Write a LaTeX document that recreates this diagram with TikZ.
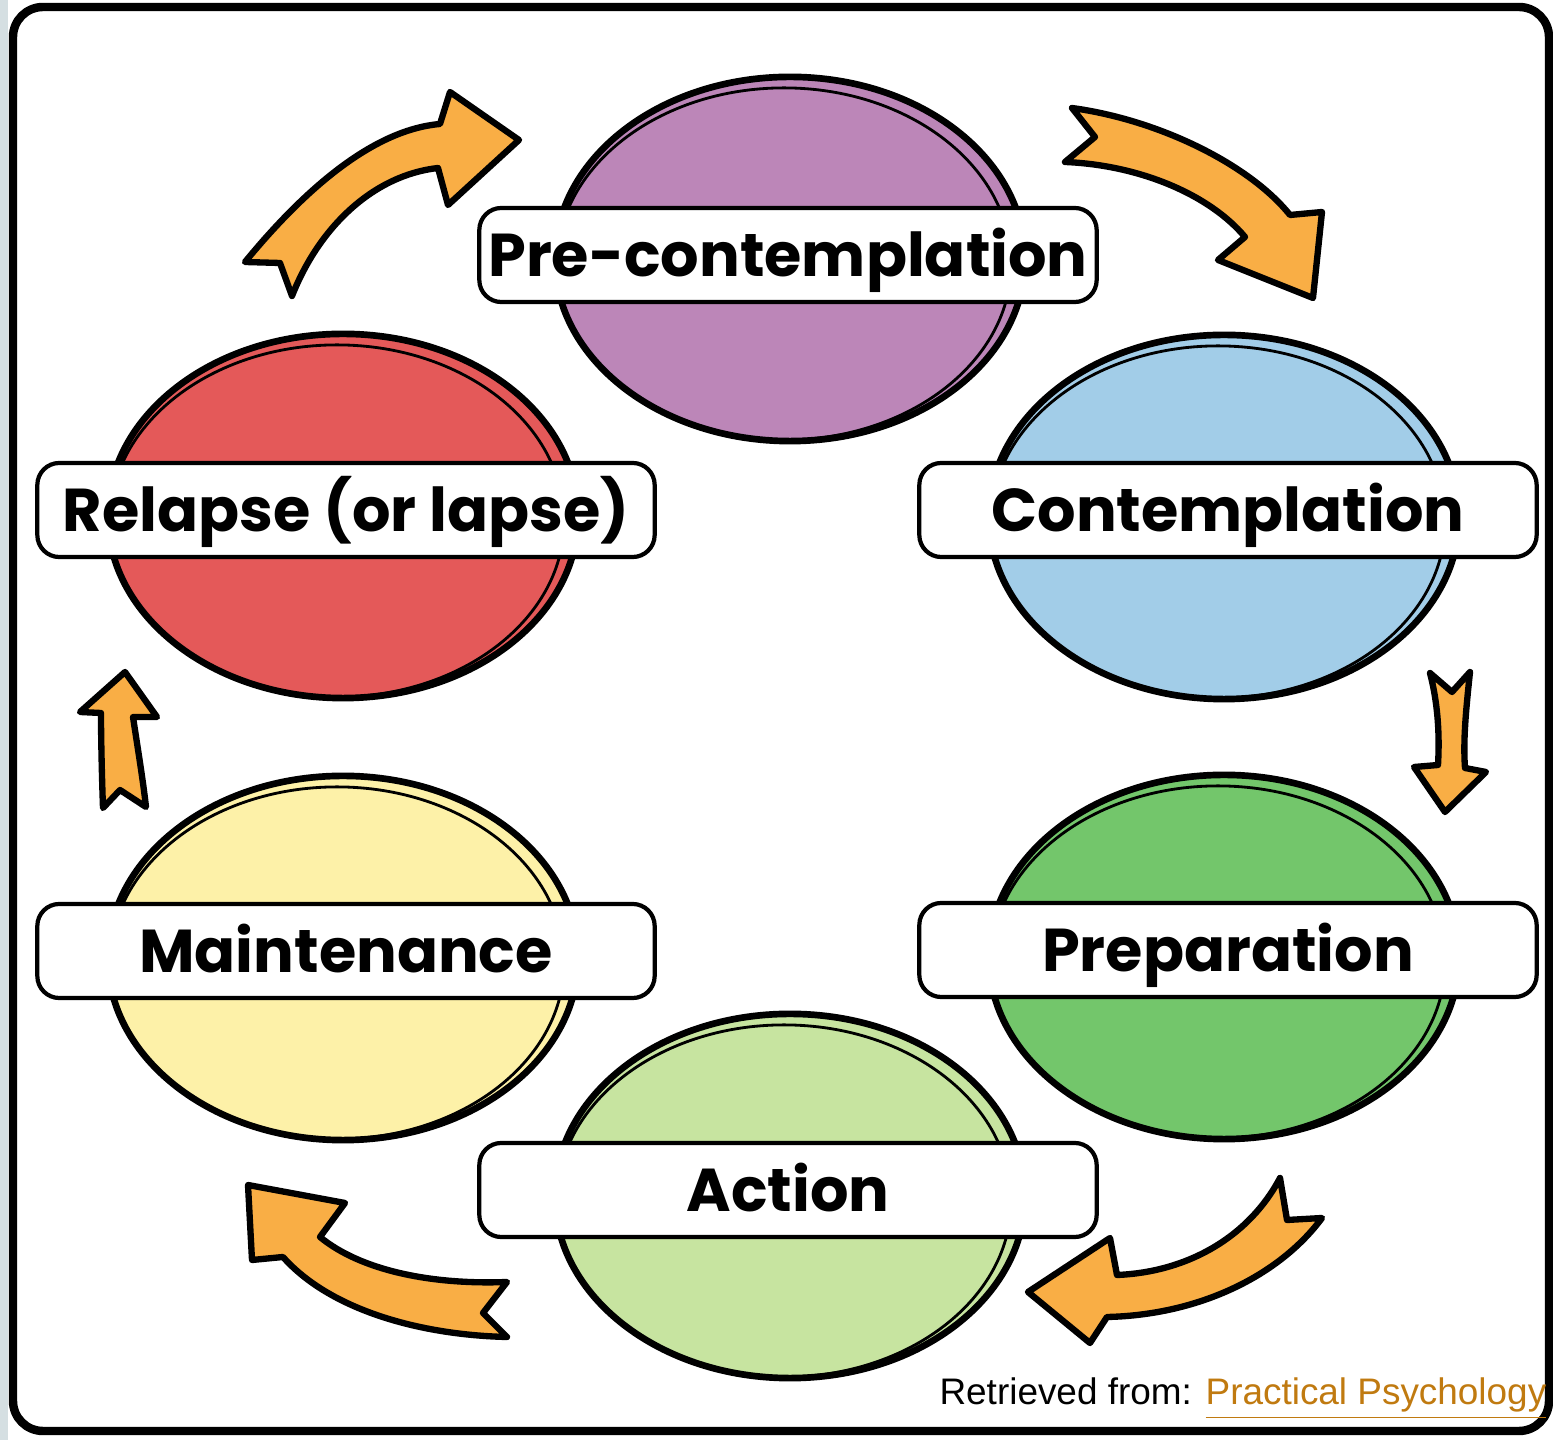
\documentclass[tikz,border=0pt]{standalone}
\usepackage{fontspec}
\setmainfont{Liberation Sans}
\newfontfamily\labfont{Poppins}
\usetikzlibrary{shapes.geometric}
\definecolor{stripc}{HTML}{D5DFE2}
\definecolor{purplec}{HTML}{BC86B8}
\definecolor{bluec}{HTML}{A2CDE8}
\definecolor{greenc}{HTML}{73C66B}
\definecolor{lgreenc}{HTML}{C7E4A0}
\definecolor{yellowc}{HTML}{FDF1A8}
\definecolor{redc}{HTML}{E45959}
\definecolor{orangec}{HTML}{F9AE45}
\definecolor{linkc}{HTML}{C07A10}
\begin{document}
\begin{tikzpicture}[x=0.01cm,y=-0.01cm,
  stage/.style={ellipse, draw=black, line width=1.9pt, minimum width=4.7cm, minimum height=3.64cm, inner sep=0pt},
  sketch/.style={draw=black, line width=0.8pt},
  lab/.style={draw=black, fill=white, line width=1.2pt, rounded corners=0.22cm, minimum width=6.17cm, minimum height=0.94cm, text height=0.68cm, text depth=0.26cm, inner sep=0pt, font=\labfont\bfseries\fontsize{17.2}{20}\selectfont},
  arr/.style={fill=orangec, draw=black, line width=1.8pt, line join=round}]
\useasboundingbox (0,0) rectangle (1553,1440);
\fill[stripc] (0,0) rectangle (8,1440);
\draw[line width=2.4pt, rounded corners=0.3cm] (13,7) rectangle (1549,1431);

% stages
\node[stage, fill=purplec] (pre) at (790,259) {};
\node[stage, fill=bluec] (con) at (1224,517) {};
\node[stage, fill=greenc] (prep) at (1224,957) {};
\node[stage, fill=lgreenc] (act) at (790,1196) {};
\node[stage, fill=yellowc] (main) at (343,958) {};
\node[stage, fill=redc] (rel) at (343,516) {};
\foreach \n in {pre,con,prep,act,main,rel}{
  \draw[sketch] ([shift={(-6,5)}]\n.center) ellipse [x radius=2.27cm, y radius=1.76cm];
}

% labels
\node[lab] (prel) at (788,255) {Pre-contemplation};
\node[lab] (conl) at (1228,510) {Contemplation};
\node[lab] (prepl) at (1228,950) {Preparation};
\node[lab] (actl) at (788,1190) {Action};
\node[lab] (mainl) at (346,951) {Maintenance};
\node[lab] (rell) at (346,510) {Relapse (or lapse)};

% arrows
\draw[arr] (245,262) .. controls (300,195) and (370,130) .. (440,124) -- (450,92) -- (519,140) -- (448,205) -- (438,168)
  .. controls (375,175) and (320,225) .. (292,296) -- (280,263) -- cycle;
\draw[arr] (1072,108) .. controls (1160,120) and (1250,165) .. (1290,215) -- (1322,212) -- (1313,298) -- (1218,260) -- (1245,237)
  .. controls (1210,195) and (1140,165) .. (1065,162) -- (1095,137) -- cycle;
\draw[arr] (1430,673) -- (1452,692) -- (1470,672) .. controls (1466,710) and (1463,740) .. (1465,768) -- (1486,772) -- (1445,812) -- (1414,767) -- (1438,765)
  .. controls (1440,730) and (1437,700) .. cycle;
\draw[arr] (1280,1178) -- (1287,1220) -- (1322,1218) .. controls (1280,1275) and (1200,1315) .. (1107,1317) -- (1090,1343) -- (1028,1292) -- (1110,1238) -- (1117,1275)
  .. controls (1190,1272) and (1250,1235) .. cycle;
\draw[arr] (248,1185) -- (345,1203) -- (320,1237) .. controls (360,1270) and (430,1285) .. (507,1282) -- (483,1313) -- (507,1337)
  .. controls (420,1335) and (330,1310) .. (283,1257) -- (252,1260) -- cycle;
\draw[arr] (125,672) -- (157,717) -- (133,717) .. controls (138,750) and (143,780) .. (146,807) -- (120,790) -- (103,808) .. controls (102,780) and (101,740) .. (101,713) -- (80,712) -- cycle;

% source
\node[anchor=base east, inner sep=0pt, font=\fontsize{10.5}{12}\selectfont] (src) at (1547,1405) {Retrieved from: \textcolor{linkc}{\underline{Practical Psychology}}};
\end{tikzpicture}
\end{document}
